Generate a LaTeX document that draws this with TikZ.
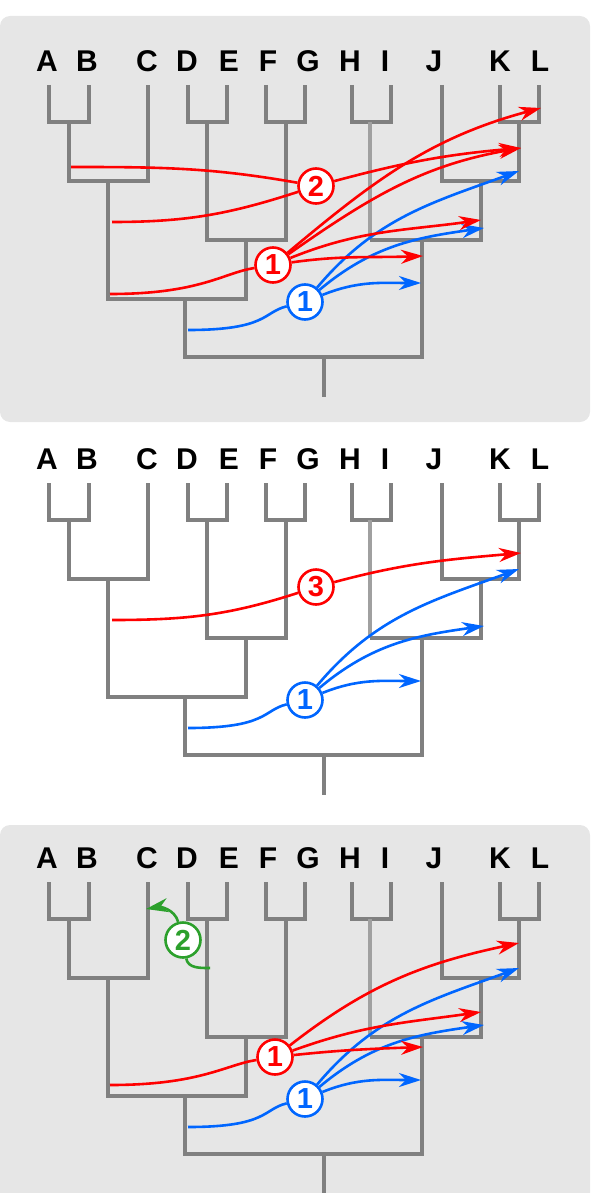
\documentclass[tikz,border=0pt]{standalone}
\usepackage{fontspec}
\setmainfont{Liberation Sans}
\usetikzlibrary{arrows.meta}
\definecolor{panelgray}{HTML}{E6E6E6}
\definecolor{treegray}{HTML}{808080}
\definecolor{stemgray}{HTML}{A0A0A0}
\definecolor{movered}{HTML}{FF0000}
\definecolor{moveblue}{HTML}{0066FF}
\definecolor{movegreen}{HTML}{2CA02C}

% one copy of the tree, #1 = prefix of the label names, #2 = vertical offset
\newcommand{\cladetree}[2]{%
  \begin{scope}[shift={(0,#2)}]
    \foreach \lab/\lx in {A/47,B/87,C/147,D/187,E/229,F/268,G/308,H/350,I/385,J/434,K/500,L/540}
      \node[leaf] (#1\lab) at (\lx,61) {\lab};
    \foreach \xa/\xb in {49/89,188/227,266/305,352/391,500/539}
      \draw[branch] (\xa,85) |- (\xb,122) -- (\xb,85);
    \draw[branch] (69,122) |- (148,181) -- (148,85);
    \draw[branch] (207,122) |- (286,240) -- (286,122);
    \draw[branch] (108,181) |- (246,299) -- (246,240);
    \draw[branch] (442,85) |- (519,181) -- (519,122);
    \draw[stem] (370,122) -- (370,240);
    \draw[branch] (370,240) -| (481,181);
    \draw[branch] (185,299) |- (422,357) -- (422,240);
    \draw[branch] (324,357) -- (324,397);
  \end{scope}}

\begin{document}
\begin{tikzpicture}[x=1pt, y=-1pt,
  branch/.style={draw=treegray, line width=4pt},
  stem/.style={draw=stemgray, line width=4pt},
  leaf/.style={font=\fontsize{30}{30}\selectfont\bfseries, inner sep=0pt},
  num/.style={circle, draw=#1, text=#1, fill=white, line width=2.6pt, minimum size=35pt, inner sep=0pt, font=\fontsize{29}{29}\selectfont\bfseries},
  mv/.style={draw=#1, line width=2.6pt},
  mva/.style={mv=#1, -{Stealth[length=22pt, width=14pt, inset=7pt]}}
]
\useasboundingbox (0,0) rectangle (592,1193);
\fill[panelgray, rounded corners=10pt] (0,16) rectangle (590,422);
\fill[white, rounded corners=10pt] (0,424) rectangle (590,822);
\fill[panelgray, rounded corners=10pt] (0,825) rectangle (590,1215);

\cladetree{t}{0}
\cladetree{m}{398}
\cladetree{b}{797}

% blue moves, the same in every panel
\foreach \p/\dy in {t/0,m/398,b/797} {
  \node[num=moveblue] (\p b1) at (305,302+\dy) {1};
  \coordinate (\p bin) at (188,330+\dy);
  \draw[mv=moveblue] (\p bin) .. controls +(80,0) and +(-42,10) .. (\p b1);
  \draw[mva=moveblue] (\p b1) to[out=50, in=200] (519,171+\dy);
  \draw[mva=moveblue] (\p b1) to[out=40, in=188] (484,228+\dy);
  \draw[mva=moveblue] (\p b1) to[out=22, in=180] (421,283+\dy);
}

% top panel
\node[num=movered] (tr2) at (316,186) {2};
\node[num=movered] (tr1) at (273,265) {1};
\coordinate (tAB) at (71,167);
\coordinate (tABC) at (112,222);
\coordinate (tABClo) at (110,294);
\coordinate (tL) at (541,108);
\coordinate (tKL) at (521,148);
\coordinate (tJKL) at (481,220);
\coordinate (tHIJKL) at (423,256);
\draw[mv=movered] (tAB) to[out=0, in=170] (tr2);
\draw[mv=movered] (tABC) to[out=0, in=198] (tr2);
\draw[mva=movered] (tr2) to[out=15, in=185] (tKL);
\draw[mv=movered] (tABClo) .. controls +(90,0) and +(-50,8) .. (tr1);
\draw[mva=movered] (tr1) to[out=40, in=195] (tL);
\draw[mva=movered] (tr1) to[out=35, in=190] (tKL);
\draw[mva=movered] (tr1) to[out=22, in=188] (tJKL);
\draw[mva=movered] (tr1) to[out=8, in=182] (tHIJKL);

% middle panel
\node[num=movered] (mr3) at (316,587) {3};
\coordinate (mABC) at (112,620);
\coordinate (mKL) at (521,553);
\draw[mv=movered] (mABC) to[out=0, in=198] (mr3);
\draw[mva=movered] (mr3) to[out=15, in=185] (mKL);

% bottom panel
\node[num=movegreen] (bg2) at (183,940) {2};
\coordinate (bDE) at (210,968);
\coordinate (bC) at (146,909);
\draw[mv=movegreen] (bDE) to[out=180, in=-80] (bg2);
\draw[mva=movegreen] (bg2) to[out=105, in=10] (bC);
\node[num=movered] (br1) at (275,1057) {1};
\coordinate (bABClo) at (110,1085);
\coordinate (bKL) at (519,943);
\coordinate (bJKL) at (481,1012);
\coordinate (bHIJKL) at (423,1047);
\draw[mv=movered] (bABClo) .. controls +(90,0) and +(-50,8) .. (br1);
\draw[mva=movered] (br1) to[out=38, in=192] (bKL);
\draw[mva=movered] (br1) to[out=20, in=188] (bJKL);
\draw[mva=movered] (br1) to[out=6, in=182] (bHIJKL);
\end{tikzpicture}
\end{document}
